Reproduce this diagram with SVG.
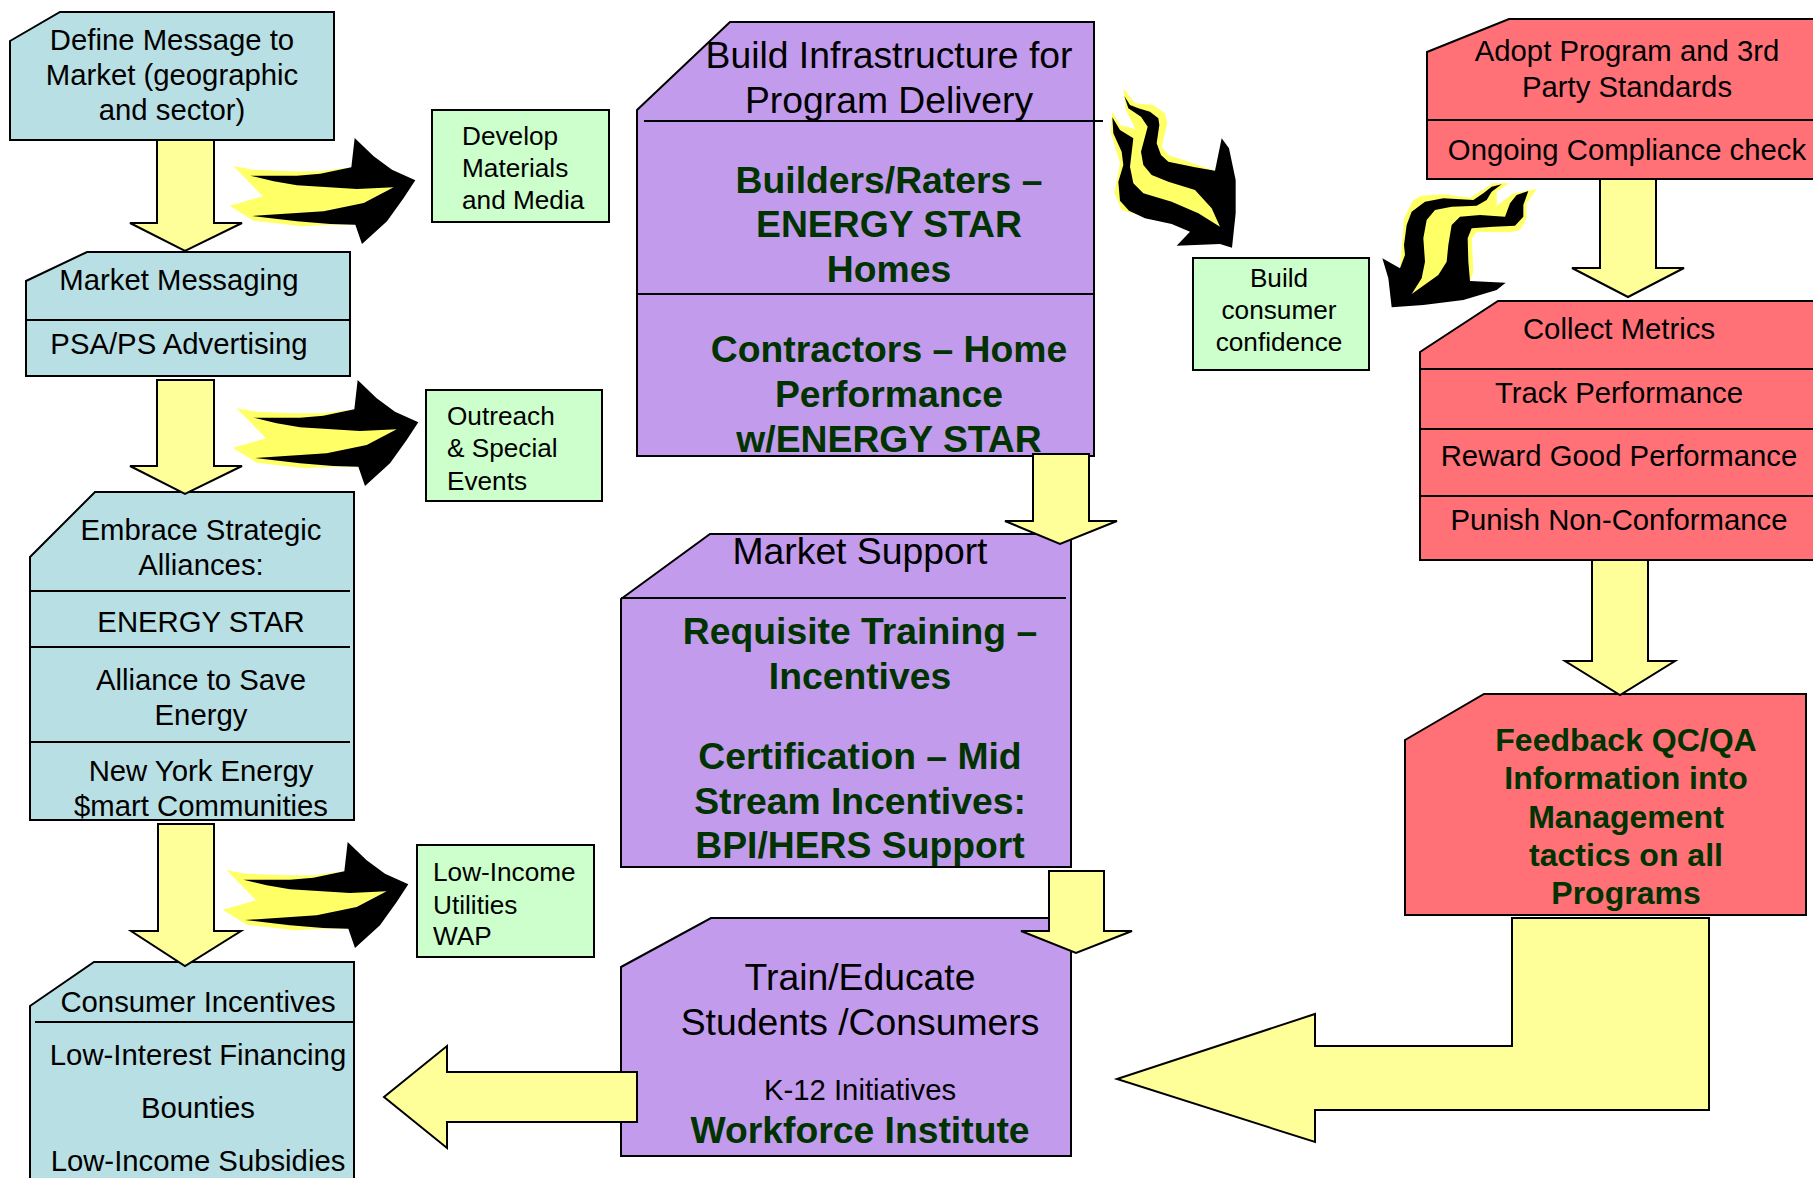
<svg xmlns="http://www.w3.org/2000/svg" width="1813" height="1178" viewBox="0 0 1813 1178">
<style>
text{font-family:"Liberation Sans",Arial,sans-serif;fill:#000}
.s{stroke:#000;stroke-width:2}
.t{fill:#B8DFE3}.g{fill:#CCFFCC}.p{fill:#C29BED}.r{fill:#FF7077}
.d{stroke:#000;stroke-width:2;fill:none}
.m{font-size:29.3px;text-anchor:middle}
.sm{font-size:26.2px}.smc{font-size:26.2px;text-anchor:middle}
.h{font-size:37.3px;text-anchor:middle}
.b{font-size:37.3px;font-weight:bold;text-anchor:middle;fill:#003300}
.bb{font-size:32px;font-weight:bold;text-anchor:middle;fill:#003300}
.a{fill:#FFFF99;stroke:#000;stroke-width:2;stroke-linejoin:miter}
.fy{fill:#FFFF66}.fb{fill:#000}
</style>
<defs>
<g id="flameR">
<polygon class="fy" points="50,115 110,125 220,130 310,130 385,120 530,178 440,225 415,290 340,290 255,295 110,278 38,233 138,205"/>
<polygon class="fb" points="100,143 240,143 310,137 403,118 413,30 470,85 525,125 595,157 560,210 510,280 435,348 415,290 340,288 240,280 105,264 320,250 440,225 530,178 420,183 240,172 170,160"/>
</g>
</defs>
<g id="node-define"><path class="t s" d="M10 41L60 12H334V140H10Z"/>
<text class="m" x="172" y="50">Define Message to</text><text class="m" x="172" y="85">Market (geographic</text><text class="m" x="172" y="120">and sector)</text></g>
<g id="node-messaging"><path class="t s" d="M26 281L87 252H350V376H26Z"/><path class="d" d="M26 320H350"/>
<text class="m" x="179" y="290">Market Messaging</text><text class="m" x="179" y="354">PSA/PS Advertising</text></g>
<g id="node-alliances"><path class="t s" d="M30 557L95 492H354V820H30Z"/><path class="d" d="M30 591H350M30 647H350M30 742H350"/>
<text class="m" x="201" y="540">Embrace Strategic</text><text class="m" x="201" y="575">Alliances:</text><text class="m" x="201" y="632">ENERGY STAR</text><text class="m" x="201" y="690">Alliance to Save</text><text class="m" x="201" y="725">Energy</text><text class="m" x="201" y="781">New York Energy</text><text class="m" x="201" y="816">$mart Communities</text></g>
<g id="node-incentives"><path class="t s" d="M30 1006L94 962H354V1190H30Z"/><path class="d" d="M35 1022H354"/>
<text class="m" x="198" y="1012">Consumer Incentives</text><text class="m" x="198" y="1065">Low-Interest Financing</text><text class="m" x="198" y="1118">Bounties</text><text class="m" x="198" y="1171">Low-Income Subsidies</text></g>
<g id="node-develop"><rect class="g s" x="432" y="110" width="177" height="112"/>
<text class="sm" x="462" y="145">Develop</text><text class="sm" x="462" y="177">Materials</text><text class="sm" x="462" y="209">and Media</text></g>
<g id="node-outreach"><rect class="g s" x="426" y="390" width="176" height="111"/>
<text class="sm" x="447" y="425">Outreach</text><text class="sm" x="447" y="457">&amp; Special</text><text class="sm" x="447" y="490">Events</text></g>
<g id="node-lowincome"><rect class="g s" x="417" y="845" width="177" height="112"/>
<text class="sm" x="433" y="881">Low-Income</text><text class="sm" x="433" y="914">Utilities</text><text class="sm" x="433" y="945">WAP</text></g>
<g id="node-confidence"><rect class="g s" x="1193" y="258" width="176" height="112"/>
<text class="smc" x="1279" y="287">Build</text><text class="smc" x="1279" y="319">consumer</text><text class="smc" x="1279" y="351">confidence</text></g>
<g id="node-infrastructure"><path class="p s" d="M637 110L730 22H1094V456H637Z"/><path class="d" d="M644 121H1103M637 294H1094"/>
<text class="h" x="889" y="68">Build Infrastructure for</text><text class="h" x="889" y="113">Program Delivery</text>
<text class="b" x="889" y="193">Builders/Raters –</text><text class="b" x="889" y="237">ENERGY STAR</text><text class="b" x="889" y="282">Homes</text>
<text class="b" x="889" y="362">Contractors – Home</text><text class="b" x="889" y="407">Performance</text><text class="b" x="889" y="452">w/ENERGY STAR</text></g>
<g id="node-support"><path class="p s" d="M621 599L710 534H1071V867H621Z"/><path class="d" d="M621 598H1066"/>
<text class="h" x="860" y="564">Market Support</text>
<text class="b" x="860" y="644">Requisite Training –</text><text class="b" x="860" y="689">Incentives</text>
<text class="b" x="860" y="769">Certification – Mid</text><text class="b" x="860" y="814">Stream Incentives:</text><text class="b" x="860" y="858">BPI/HERS Support</text></g>
<g id="node-train"><path class="p s" d="M621 967L711 918H1071V1156H621Z"/>
<text class="h" x="860" y="990">Train/Educate</text><text class="h" x="860" y="1035">Students /Consumers</text>
<text class="m" x="860" y="1100">K-12 Initiatives</text><text class="b" x="860" y="1143">Workforce Institute</text></g>
<g id="node-adopt"><path class="r s" d="M1427 52L1509 19H1820V179H1427Z"/><path class="d" d="M1427 120H1820"/>
<text class="m" x="1627" y="61">Adopt Program and 3rd</text><text class="m" x="1627" y="97">Party Standards</text><text class="m" x="1627" y="160">Ongoing Compliance check</text></g>
<g id="node-metrics"><path class="r s" d="M1420 352L1498 301H1820V560H1420Z"/><path class="d" d="M1420 369H1820M1420 429H1820M1420 496H1820"/>
<text class="m" x="1619" y="339">Collect Metrics</text><text class="m" x="1619" y="403">Track Performance</text><text class="m" x="1619" y="466">Reward Good Performance</text><text class="m" x="1619" y="530">Punish Non-Conformance</text></g>
<g id="node-feedback"><path class="r s" d="M1405 740L1484 694H1806V915H1405Z"/>
<text class="bb" x="1626" y="751">Feedback QC/QA</text><text class="bb" x="1626" y="789">Information into</text><text class="bb" x="1626" y="828">Management</text><text class="bb" x="1626" y="866">tactics on all</text><text class="bb" x="1626" y="904">Programs</text></g>
<g id="connectors">
<polygon class="a" points="157,140 214,140 214,223 242,223 185,251 130,223 157,223"/>
<polygon class="a" points="157,380 214,380 214,466 242,466 185,494 130,466 157,466"/>
<polygon class="a" points="158,824 214,824 214,931 241,931 185,966 131,931 158,931"/>
<polygon class="a" points="1033,454 1089,454 1089,521 1117,521 1060,544 1005,521 1033,521"/>
<polygon class="a" points="1049,871 1104,871 1104,931 1132,931 1076,953 1021,931 1049,931"/>
<polygon class="a" points="1600,179 1656,179 1656,268 1684,268 1628,297 1572,268 1600,268"/>
<polygon class="a" points="1592,560 1648,560 1648,661 1675,661 1620,695 1565,661 1592,661"/>
<polygon class="a" points="1709,918 1512,918 1512,1046 1315,1046 1315,1014 1117,1079 1315,1142 1315,1110 1709,1110"/>
<polygon class="a" points="637,1072 447,1072 447,1046 384,1097 447,1148 447,1122 637,1122"/>
<use href="#flameR" transform="translate(217 128) scale(.33333)"/>
<use href="#flameR" transform="translate(220 370) scale(.33333)"/>
<use href="#flameR" transform="translate(210 832) scale(.33333)"/>
<g transform="translate(1105 80) scale(.33333)">
<polygon class="fy" points="55,25 90,70 145,75 180,100 187,130 170,200 190,225 250,245 330,272 345,440 80,400 50,390 28,340 45,250 17,155 22,95 45,135 92,148 62,90"/>
<polygon class="fb" points="58,48 75,75 100,85 135,95 160,115 163,135 155,190 168,225 190,245 270,262 330,272 350,175 372,205 392,300 392,400 381,503 345,492 215,497 255,455 200,432 120,415 72,392 45,362 40,305 55,255 50,215 25,160 22,112 45,150 85,175 75,260 85,310 115,340 200,365 280,400 345,440 320,385 270,330 190,305 140,285 115,255 108,215 128,140 108,110 70,85"/>
</g>
<g transform="translate(1380 175) scale(.33333)">
<polygon class="fy" points="388,25 350,50 350,92 400,55 470,42 440,85 440,130 420,165 390,172 290,170 275,190 280,290 270,318 95,357 60,280 72,130 100,75 125,62 190,58 270,68 340,25"/>
<polygon class="fb" points="365,28 335,35 310,55 280,75 190,70 135,80 95,110 80,150 72,210 75,240 60,280 7,250 25,310 35,397 130,390 250,375 350,345 377,323 270,318 265,260 263,190 275,160 340,155 405,152 430,125 430,90 445,48 410,60 390,85 375,125 300,120 240,125 215,150 205,210 200,260 175,300 95,357 125,310 135,260 130,190 140,135 165,105 215,95 290,92 320,75 335,50"/>
</g>
</g>
</svg>
